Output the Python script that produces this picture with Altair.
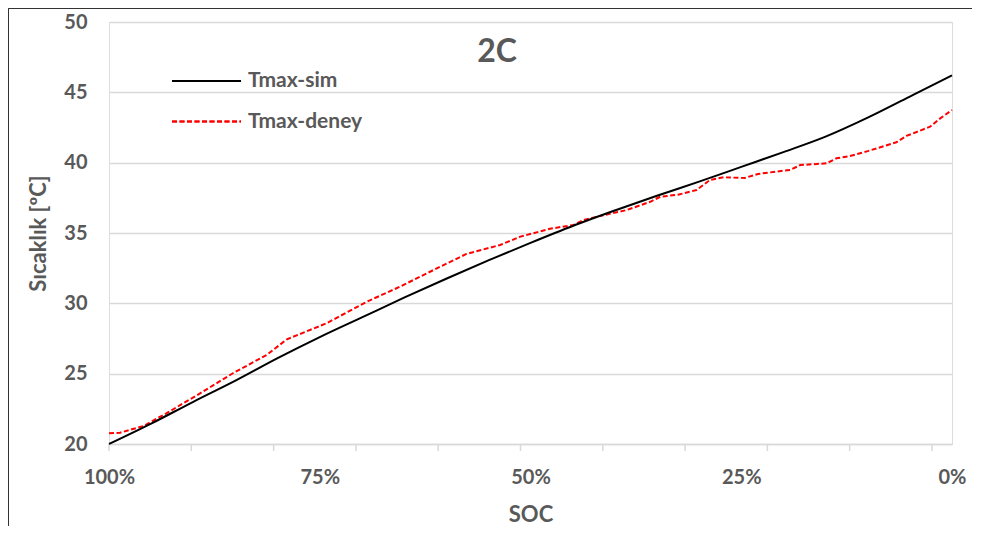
import altair as alt
import pandas as pd

# ---- data ----
sim_soc = [100, 95, 90, 85, 80, 75, 70, 65, 60, 55, 50, 45, 40, 35, 30, 25, 20, 15, 10, 5, 0]
sim_val = [20.0, 21.45, 23.0, 24.5, 26.1, 27.6, 29.0, 30.4, 31.75, 33.05, 34.3, 35.5,
           36.6, 37.65, 38.65, 39.7, 40.75, 41.85, 43.2, 44.7, 46.2]

deney_soc = [100, 98.7, 95.9, 93.2, 89.2, 85.3, 81.3, 78.9, 74.2, 69.4, 65.5, 61.5, 57.6,
             53.6, 51.2, 47.7, 44.9, 43.7, 42.1, 38.6, 35.8, 34.6, 32.5, 30.3, 28.7, 27.1,
             24.6, 23.0, 20.0, 19.2, 18.0, 14.9, 13.7, 12.1, 10.0, 6.6, 5.4, 2.6, 1.4, 0]
deney_val = [20.76, 20.8, 21.28, 22.18, 23.6, 25.03, 26.33, 27.44, 28.58, 30.12, 31.18,
             32.37, 33.51, 34.15, 34.74, 35.3, 35.57, 35.92, 36.16, 36.63, 37.22, 37.58,
             37.72, 38.06, 38.77, 38.96, 38.91, 39.2, 39.43, 39.48, 39.83, 39.95, 40.31,
             40.47, 40.82, 41.45, 41.9, 42.56, 43.15, 43.74]

x_labels = [100, 75, 50, 25, 0]
x_ticks = [100, 90.24, 80.47, 70.71, 60.95, 51.19, 41.42, 31.66, 21.9, 12.14, 2.37]
y_ticks = [20, 25, 30, 35, 40, 45, 50]

series_names = ["Tmax-sim", "Tmax-deney"]
chart_title = "2C"
x_title = "SOC"
y_title = "Sıcaklık [ºC]"

FONT = "Lato"
GREY = "#595959"
GRID = "#d9d9d9"
W, H = 843, 422
DASH = [5, 2.5]

sim_df = pd.DataFrame({"soc": sim_soc, "t": sim_val})
dey_df = pd.DataFrame({"soc": deney_soc, "t": deney_val})
tick_df = pd.DataFrame({"soc": x_ticks})

xscale = alt.Scale(domain=[100, 0], nice=False, zero=False)
yscale = alt.Scale(domain=[20, 50], nice=False, zero=False)

xaxis = alt.Axis(values=x_labels, labelExpr="datum.value + '%'", grid=False,
                 ticks=False, domainColor=GRID, domainWidth=1.5, labelFont=FONT,
                 labelFontSize=20, labelFontWeight="bold", labelColor=GREY,
                 labelPadding=23, labelFlush=False, title=x_title, titleFont=FONT,
                 titleFontSize=22, titleFontWeight="bold", titleColor=GREY,
                 titlePadding=17)
yaxis = alt.Axis(values=y_ticks, grid=True, gridColor=GRID, gridWidth=1.5,
                 domain=False, ticks=False, labelFont=FONT, labelFontSize=20,
                 labelFontWeight="bold", labelColor=GREY, labelPadding=22,
                 title=y_title, titleFont=FONT, titleFontSize=22,
                 titleFontWeight="bold", titleColor=GREY, titlePadding=13)

base_sim = alt.Chart(sim_df).mark_line(color="black", strokeWidth=2, interpolate="monotone").encode(
    x=alt.X("soc:Q", scale=xscale, axis=xaxis),
    y=alt.Y("t:Q", scale=yscale, axis=yaxis),
)
dey = alt.Chart(dey_df).mark_line(color="#ff0000", strokeWidth=2, strokeDash=DASH).encode(
    x=alt.X("soc:Q", scale=xscale),
    y=alt.Y("t:Q", scale=yscale),
)
ticks = alt.Chart(tick_df).mark_rule(color=GRID, strokeWidth=1.5).encode(
    x=alt.X("soc:Q", scale=xscale),
    y=alt.value(H),
    y2=alt.value(H + 7),
)

title_df = pd.DataFrame({"txt": [chart_title]})
title = alt.Chart(title_df).mark_text(font=FONT, fontSize=32, fontWeight="bold",
                                      color=GREY, align="center", baseline="middle").encode(
    text="txt:N", x=alt.value(388), y=alt.value(30))

leg_df = pd.DataFrame({"name": series_names})
leg_line1 = alt.Chart(leg_df).mark_rule(color="black", strokeWidth=2).encode(
    x=alt.value(63), x2=alt.value(132), y=alt.value(59))
leg_line2 = alt.Chart(leg_df).mark_rule(color="#ff0000", strokeWidth=2, strokeDash=DASH).encode(
    x=alt.value(63), x2=alt.value(132), y=alt.value(99.5))
leg_txt1 = alt.Chart(pd.DataFrame({"name": [series_names[0]]})).mark_text(
    font=FONT, fontSize=21, fontWeight="bold", color=GREY, align="left", baseline="middle").encode(
    text="name:N", x=alt.value(139), y=alt.value(59))
leg_txt2 = alt.Chart(pd.DataFrame({"name": [series_names[1]]})).mark_text(
    font=FONT, fontSize=21, fontWeight="bold", color=GREY, align="left", baseline="middle").encode(
    text="name:N", x=alt.value(139), y=alt.value(99.5))

border_top = alt.Chart(leg_df).mark_rule(color="#333333", strokeWidth=1).encode(
    x=alt.value(-100.5), x2=alt.value(W + 30), y=alt.value(-13.5))
border_left = alt.Chart(leg_df).mark_rule(color="#333333", strokeWidth=1).encode(
    x=alt.value(-100.5), y=alt.value(-13.5), y2=alt.value(H + 120))

chart = alt.layer(
    ticks, dey, base_sim, title, leg_line1, leg_line2, leg_txt1, leg_txt2,
    border_top, border_left
).properties(
    width=W, height=H,
    autosize=alt.AutoSizeParams(type="none"),
    padding={"left": 101, "top": 14, "right": 20, "bottom": 82},
).configure_view(stroke=None).configure(background="white")

chart.save("out.html", embed_options={"renderer": "svg", "actions": False})
